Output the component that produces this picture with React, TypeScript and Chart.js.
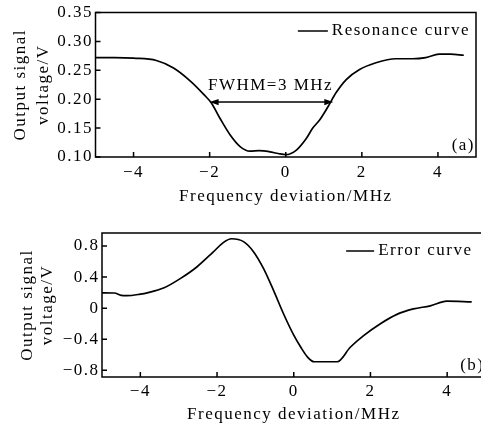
import React, { useEffect, useRef } from "react";
import { Chart, registerables } from "chart.js";

Chart.register(...registerables);

const FONT = "'Liberation Serif', 'Times New Roman', serif";
const FS = 17;
const SPACING = "1.5px";

// ---------- Panel (a): resonance curve ----------
const resonanceFreq = [-5, -4.5, -4, -3.4, -2.95, -2.5, -2.15, -1.95, -1.73, -1.46, -1.2, -0.94, -0.7, -0.42, -0.2, 0, 0.28, 0.54, 0.71, 0.89, 1.11, 1.32, 1.59, 1.93, 2.37, 2.89, 3.33, 3.68, 4.03, 4.33, 4.68];
const resonanceVolt = [0.272, 0.272, 0.271, 0.267, 0.254, 0.231, 0.208, 0.193, 0.167, 0.138, 0.118, 0.11, 0.111, 0.109, 0.106, 0.104, 0.112, 0.132, 0.15, 0.164, 0.187, 0.211, 0.234, 0.251, 0.263, 0.27, 0.27, 0.272, 0.278, 0.278, 0.276];
const resonanceYTicks = [0.1, 0.15, 0.2, 0.25, 0.3, 0.35];
const freqTicks = [-4, -2, 0, 2, 4];
const fwhmEnds = [-2, 1.25];
const fwhmLevel = 0.195;
const fwhmLabel = "FWHM=3 MHz";
const fwhmLabelAt = [-0.4, 0.224];

// ---------- Panel (b): error curve ----------
const errorFreq = [-5, -4.68, -4.5, -4.35, -4.0, -3.82, -3.38, -2.95, -2.52, -2.09, -1.83, -1.62, -1.31, -1.05, -0.79, -0.53, -0.27, 0, 0.18, 0.36, 0.53, 1.13, 1.48, 1.83, 2.26, 2.69, 3.12, 3.56, 3.99, 4.64];
const errorVolt = [0.197, 0.195, 0.165, 0.16, 0.18, 0.197, 0.262, 0.383, 0.533, 0.727, 0.847, 0.893, 0.856, 0.727, 0.512, 0.232, -0.069, -0.348, -0.5, -0.63, -0.69, -0.69, -0.5, -0.35, -0.2, -0.08, -0.01, 0.03, 0.09, 0.08];
const errorYTicks = [-0.8, -0.4, 0, 0.4, 0.8];

const signed = (v: number) => (v < 0 ? "\u2212" + String(Math.abs(v)) : String(v));

type PanelCfg = {
  legendGap: number;
  legendDy: number;
  legendLine: number;
  panelLabel: string;
  arrow?: boolean;
};

function makeDecor(cfg: PanelCfg) {
  return {
    id: "decor",
    beforeUpdate(chart: any) {
      chart.ctx.letterSpacing = SPACING;
    },
    beforeDraw(chart: any) {
      chart.ctx.letterSpacing = SPACING;
    },
    afterDraw(chart: any) {
      const { ctx, chartArea: a, scales } = chart;
      ctx.save();
      ctx.letterSpacing = SPACING;
      ctx.strokeStyle = "#000";
      ctx.fillStyle = "#000";
      ctx.lineWidth = 1.5;
      ctx.strokeRect(a.left, a.top, a.right - a.left, a.bottom - a.top);
      // inward tick marks
      ctx.beginPath();
      scales.x.ticks.forEach((t: any) => {
        const px = scales.x.getPixelForValue(t.value);
        ctx.moveTo(px, a.bottom);
        ctx.lineTo(px, a.bottom - 5);
      });
      scales.y.ticks.forEach((t: any) => {
        const py = scales.y.getPixelForValue(t.value);
        ctx.moveTo(a.left, py);
        ctx.lineTo(a.left + 5, py);
      });
      ctx.stroke();

      ctx.font = `${FS}px ${FONT}`;
      ctx.textBaseline = "middle";
      // legend
      const label = chart.data.datasets[0].label;
      const w = ctx.measureText(label).width;
      const tx = a.right - cfg.legendGap - w;
      const ty = a.top + cfg.legendDy;
      ctx.textAlign = "left";
      ctx.fillText(label, tx, ty);
      ctx.beginPath();
      ctx.lineWidth = 1.5;
      ctx.moveTo(tx - 4 - cfg.legendLine, ty);
      ctx.lineTo(tx - 4, ty);
      ctx.stroke();

      // panel label
      ctx.textAlign = "right";
      ctx.fillText(cfg.panelLabel, a.right - 1, a.bottom - 11);

      if (cfg.arrow) {
        const x1 = scales.x.getPixelForValue(fwhmEnds[0]);
        const x2 = scales.x.getPixelForValue(fwhmEnds[1]);
        const y = scales.y.getPixelForValue(fwhmLevel);
        ctx.beginPath();
        ctx.lineWidth = 1.5;
        ctx.moveTo(x1 + 6, y);
        ctx.lineTo(x2 - 6, y);
        ctx.stroke();
        ctx.beginPath();
        ctx.moveTo(x1, y);
        ctx.lineTo(x1 + 9, y - 3.2);
        ctx.lineTo(x1 + 9, y + 3.2);
        ctx.closePath();
        ctx.fill();
        ctx.beginPath();
        ctx.moveTo(x2, y);
        ctx.lineTo(x2 - 9, y - 3.2);
        ctx.lineTo(x2 - 9, y + 3.2);
        ctx.closePath();
        ctx.fill();
        ctx.textAlign = "center";
        ctx.fillText(
          fwhmLabel,
          scales.x.getPixelForValue(fwhmLabelAt[0]),
          scales.y.getPixelForValue(fwhmLabelAt[1])
        );
      }
      ctx.restore();
    },
  };
}

type ChartSpec = {
  width: number;
  height: number;
  xs: number[];
  ys: number[];
  label: string;
  yMin: number;
  yMax: number;
  yTicks: number[];
  yFmt: (v: number) => string;
  yAxisWidth: number;
  xAxisHeight: number;
  pad: { left: number; top: number; right: number; bottom: number };
  xTickPad: number;
  xTitlePadBottom: number;
  yTitleLineHeight: number;
  yTitlePadTop: number;
  decor: PanelCfg;
};

function Panel({ spec, top }: { spec: ChartSpec; top: number }) {
  const ref = useRef<HTMLCanvasElement | null>(null);
  useEffect(() => {
    if (!ref.current) return;
    const font = { family: FONT, size: FS };
    const chart = new Chart(ref.current, {
      type: "line",
      data: {
        datasets: [
          {
            label: spec.label,
            data: spec.xs.map((x, i) => ({ x, y: spec.ys[i] })),
            borderColor: "#000",
            borderWidth: 1.7,
            pointRadius: 0,
            cubicInterpolationMode: "monotone",
            fill: false,
          },
        ],
      },
      options: {
        animation: false,
        responsive: false,
        devicePixelRatio: 1,
        layout: { padding: spec.pad, autoPadding: false },
        plugins: { legend: { display: false }, tooltip: { enabled: false } },
        scales: {
          x: {
            type: "linear",
            min: -5,
            max: 5,
            afterBuildTicks: (s: any) => {
              s.ticks = freqTicks.map((v) => ({ value: v }));
            },
            afterFit: (s: any) => {
              s.height = spec.xAxisHeight;
              s.paddingLeft = 0;
              s.paddingRight = 0;
            },
            grid: { display: false, drawTicks: false },
            border: { display: false },
            ticks: {
              color: "#000",
              font,
              padding: spec.xTickPad,
              maxRotation: 0,
              autoSkip: false,
              callback: (v: any) => signed(Number(v)),
            },
            title: {
              display: true,
              text: "Frequency deviation/MHz",
              color: "#000",
              font,
              padding: { top: 0, bottom: spec.xTitlePadBottom },
            },
          },
          y: {
            type: "linear",
            min: spec.yMin,
            max: spec.yMax,
            afterBuildTicks: (s: any) => {
              s.ticks = spec.yTicks.map((v) => ({ value: v }));
            },
            afterFit: (s: any) => {
              s.width = spec.yAxisWidth;
              s.paddingTop = 0;
              s.paddingBottom = 0;
            },
            grid: { display: false, drawTicks: false },
            border: { display: false },
            ticks: {
              color: "#000",
              font,
              padding: 2.5,
              autoSkip: false,
              callback: (v: any) => spec.yFmt(Number(v)),
            },
            title: {
              display: true,
              text: ["Output signal", "voltage/V"],
              color: "#000",
              font: { family: FONT, size: FS, lineHeight: spec.yTitleLineHeight },
              padding: { top: spec.yTitlePadTop, bottom: 0 },
            },
          },
        },
      },
      plugins: [makeDecor(spec.decor)],
    } as any);
    return () => chart.destroy();
  }, []);
  return (
    <canvas
      ref={ref}
      width={spec.width}
      height={spec.height}
      style={{ position: "absolute", left: 0, top, width: spec.width, height: spec.height }}
    />
  );
}

const specA: ChartSpec = {
  width: 481,
  height: 208,
  xs: resonanceFreq,
  ys: resonanceVolt,
  label: "Resonance curve",
  yMin: 0.1,
  yMax: 0.35,
  yTicks: resonanceYTicks,
  yFmt: (v) => v.toFixed(2),
  yAxisWidth: 95.5,
  xAxisHeight: 51,
  pad: { left: 0, top: 12.5, right: 5, bottom: 0 },
  xTickPad: 5.8,
  xTitlePadBottom: 0.8,
  yTitleLineHeight: 1.353,
  yTitlePadTop: 9.5,
  decor: { legendGap: 6, legendDy: 18.5, legendLine: 30, panelLabel: "(a)", arrow: true },
};

const specB: ChartSpec = {
  width: 495,
  height: 215,
  xs: errorFreq,
  ys: errorVolt,
  label: "Error curve",
  yMin: -0.886,
  yMax: 0.967,
  yTicks: errorYTicks,
  yFmt: (v) => signed(v),
  yAxisWidth: 102,
  xAxisHeight: 50,
  pad: { left: 0, top: 21, right: 9.5, bottom: 0 },
  xTickPad: 4.5,
  xTitlePadBottom: 1.8,
  yTitleLineHeight: 1.176,
  yTitlePadTop: 17.5,
  decor: { legendGap: 13, legendDy: 18, legendLine: 28, panelLabel: "(b)" },
};

export default function App() {
  return (
    <div
      style={{
        position: "fixed",
        left: 0,
        top: 0,
        width: 481,
        height: 427,
        overflow: "hidden",
        background: "#fff",
      }}
    >
      <Panel spec={specA} top={0} />
      <Panel spec={specB} top={212} />
    </div>
  );
}
